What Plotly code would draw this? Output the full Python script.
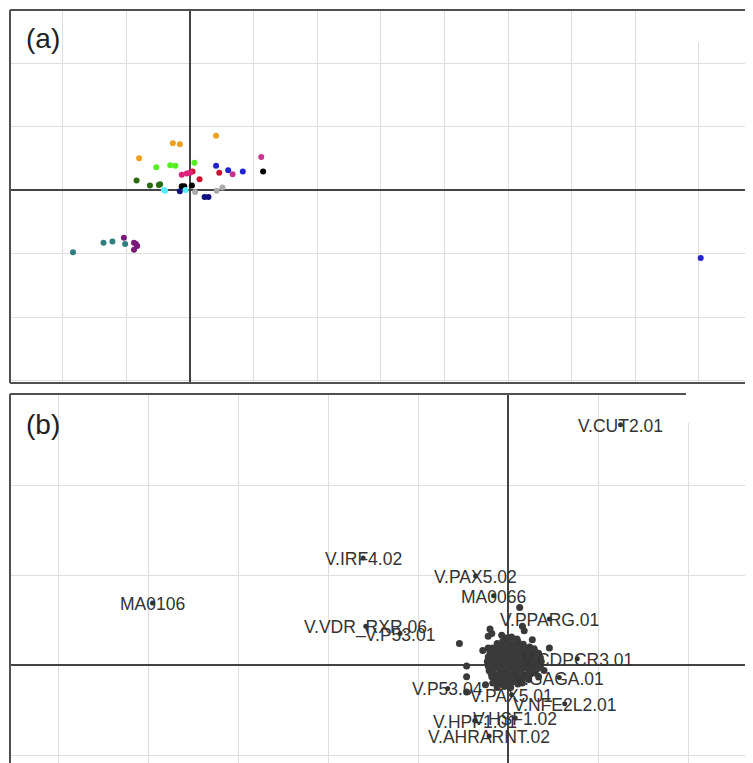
import plotly.graph_objects as go

W, H = 753, 763
OFF = 8  # the page body adds an 8px margin; shift design coordinates to compensate

# ---------------- Panel (a) data ----------------
a_groups = ["orange", "lime", "darkgreen", "blue", "navy", "black", "red",
            "pink", "magenta", "cyan", "gray", "teal", "purple"]
a_colors = {
    "orange": "#eea020", "lime": "#55ee22", "darkgreen": "#2a6a10",
    "blue": "#2222d0", "navy": "#10107e", "black": "#000000",
    "red": "#cc1030", "pink": "#e0207a", "magenta": "#c8338f",
    "cyan": "#55eeff", "gray": "#aaaaaa", "teal": "#2f7f80",
    "purple": "#7a1a7a",
}
a_x = {
    "orange": [0.41, -0.27, -0.16, -0.80],
    "lime": [-0.53, -0.31, -0.23, 0.07],
    "darkgreen": [-0.84, -0.63, -0.49, -0.47],
    "blue": [0.41, 0.60, 0.83, 8.03],
    "navy": [-0.16, 0.23, 0.29],
    "black": [1.15, -0.13, -0.09, 0.03],
    "red": [0.04, 0.46, 0.15],
    "pink": [-0.13, -0.05, 0.00],
    "magenta": [1.12, 0.67],
    "cyan": [-0.41, -0.39, -0.07],
    "gray": [0.08, 0.42, 0.51],
    "teal": [-1.84, -1.36, -1.22, -1.02],
    "purple": [-1.04, -0.88, -0.83, -0.88, -0.85],
}
a_y = {
    "orange": [0.855, 0.735, 0.72, 0.50],
    "lime": [0.36, 0.39, 0.38, 0.43],
    "darkgreen": [0.15, 0.07, 0.08, 0.09],
    "blue": [0.38, 0.31, 0.29, -1.07],
    "navy": [-0.02, -0.11, -0.11],
    "black": [0.29, 0.06, 0.06, 0.07],
    "red": [0.29, 0.27, 0.17],
    "pink": [0.24, 0.26, 0.27],
    "magenta": [0.52, 0.25],
    "cyan": [0.0, -0.01, 0.0],
    "gray": [-0.03, -0.01, 0.04],
    "teal": [-0.98, -0.83, -0.81, -0.85],
    "purple": [-0.75, -0.83, -0.88, -0.94, -0.85],
}

# ---------------- Panel (b) data ----------------
b_labels = ["V.CUT2.01", "V.IRF4.02", "MA0106", "V.VDR_RXR.06", "V.P53.01",
            "V.PAX5.02", "MA0066", "V.PPARG.01", "V.CDPCR3.01", "V.GAGA.01",
            "V.P53.04", "V.PAX5.01", "V.NFE2L2.01", "V.HSF1.02", "V.HPF1.01",
            "V.AHRARNT.02"]
b_lab_x = [1.25, -1.61, -3.95, -1.58, -1.20, -0.36, -0.16, 0.46, 0.77, 0.57,
           -0.67, 0.04, 0.63, 0.08, -0.37, -0.21]
b_lab_y = [2.67, 1.19, 0.69, 0.43, 0.35, 0.99, 0.77, 0.51, 0.07, -0.14,
           -0.26, -0.33, -0.43, -0.59, -0.62, -0.79]

b_cluster_x = [
    -0.02, 0.04, 0.10,
    -0.12, -0.06, 0.00, 0.05, 0.11, 0.17,
    -0.17, -0.11, -0.05, 0.01, 0.07, 0.12, 0.18, 0.24, 0.29,
    -0.20, -0.14, -0.08, -0.03, 0.03, 0.08, 0.13, 0.19, 0.24, 0.30, 0.34,
    -0.22, -0.16, -0.10, -0.04, 0.01, 0.06, 0.11, 0.16, 0.21, 0.27, 0.32, 0.36,
    -0.23, -0.18, -0.12, -0.06, -0.01, 0.04, 0.09, 0.14, 0.19, 0.25, 0.30, 0.35,
    -0.22, -0.17, -0.11, -0.05, 0.00, 0.05, 0.10, 0.15, 0.21, 0.26, 0.31, 0.36,
    -0.21, -0.15, -0.09, -0.04, 0.02, 0.07, 0.12, 0.17, 0.23, 0.28, 0.33,
    -0.19, -0.13, -0.07, -0.02, 0.04, 0.09, 0.14, 0.20, 0.25, 0.30,
    -0.16, -0.10, -0.04, 0.02, 0.07, 0.12, 0.18, 0.23,
    -0.13, -0.07, -0.01, 0.05, 0.11, 0.16,
    -0.12, -0.04, 0.03,
    -0.54, -0.28, -0.46, -0.46, -0.20, -0.18, -0.22, -0.07, 0.13, 0.16,
    0.18, 0.27, 0.46, 0.37, 0.40, 0.34, -0.22, -0.18, -0.17, -0.46, -0.25,
]
b_cluster_y = [
    0.30, 0.31, 0.29,
    0.24, 0.26, 0.25, 0.24, 0.26, 0.23,
    0.19, 0.21, 0.20, 0.19, 0.21, 0.20, 0.19, 0.20, 0.18,
    0.14, 0.16, 0.15, 0.14, 0.16, 0.15, 0.14, 0.16, 0.14, 0.15, 0.13,
    0.09, 0.11, 0.10, 0.09, 0.11, 0.10, 0.09, 0.11, 0.10, 0.09, 0.10, 0.08,
    0.04, 0.06, 0.05, 0.04, 0.06, 0.05, 0.04, 0.06, 0.05, 0.04, 0.06, 0.04,
    -0.01, 0.01, 0.00, -0.01, 0.01, 0.00, -0.01, 0.01, 0.00, -0.01, 0.01, -0.01,
    -0.06, -0.04, -0.05, -0.06, -0.04, -0.05, -0.06, -0.04, -0.05, -0.06, -0.04,
    -0.09, -0.11, -0.10, -0.09, -0.11, -0.10, -0.09, -0.11, -0.10, -0.09,
    -0.14, -0.16, -0.15, -0.14, -0.16, -0.15, -0.14, -0.16,
    -0.19, -0.21, -0.20, -0.19, -0.21, -0.20,
    -0.25, -0.24, -0.25,
    0.24, 0.16, -0.01, -0.13, 0.40, 0.35, 0.32, 0.33, 0.64, 0.43,
    0.38, 0.28, 0.19, 0.04, -0.06, -0.13, 0.19, -0.13, -0.20, -0.30, -0.22,
]

# ---------------- Layout geometry (reference pixels, then shifted) ----------------
LEFT = 10 - OFF
A_TOP, A_BOT = 10 - OFF, 383 - OFF
B_TOP = 394 - OFF
A_X0, A_UX = 190 - OFF, 63.6   # zero x pixel, px per unit
A_Y0, A_UY = 190 - OFF, 63.5
B_X0, B_UX = 508 - OFF, 90.0
B_Y0, B_UY = 665 - OFF, 90.0
CORNER_X = 686 - OFF

def px2x(px, x0, ux):
    return (px - x0) / ux

def py2y(py, y0, uy):
    return (y0 - py) / uy

fig = go.Figure()

for g in a_groups:
    fig.add_trace(go.Scatter(
        x=a_x[g], y=a_y[g], mode="markers",
        marker=dict(color=a_colors[g], size=6, line=dict(width=0)),
        xaxis="x", yaxis="y", showlegend=False, hoverinfo="skip"))

fig.add_trace(go.Scatter(
    x=b_cluster_x, y=b_cluster_y, mode="markers",
    marker=dict(color="#3a3a3a", size=7, line=dict(width=0)),
    xaxis="x2", yaxis="y2", showlegend=False, hoverinfo="skip"))

fig.add_trace(go.Scatter(
    x=b_lab_x, y=b_lab_y, mode="markers",
    marker=dict(color="#333333", size=5, line=dict(width=0)),
    xaxis="x2", yaxis="y2", showlegend=False, hoverinfo="skip"))

label_font = dict(family="Liberation Sans, Arial, sans-serif", size=17.5, color="#333333")
for lab, lx, ly in zip(b_labels, b_lab_x, b_lab_y):
    fig.add_annotation(text=lab, x=lx, y=ly, xref="x2", yref="y2", showarrow=False,
                       xanchor="center", yanchor="middle", yshift=-1, font=label_font)

grid_col = "#dedede"
zero_col = "#444444"
axis_common = dict(showticklabels=False, ticks="", showgrid=True, gridcolor=grid_col,
                   gridwidth=1, zeroline=True, zerolinecolor=zero_col, zerolinewidth=1.5,
                   showline=False, dtick=1, tick0=0, fixedrange=True)

fig.update_layout(
    width=W, height=H, margin=dict(l=0, r=0, t=0, b=0),
    paper_bgcolor="white", plot_bgcolor="white",
    xaxis=dict(domain=[LEFT / W, 1], range=[px2x(LEFT, A_X0, A_UX), px2x(W, A_X0, A_UX)],
               anchor="y", **axis_common),
    yaxis=dict(domain=[1 - A_BOT / H, 1 - A_TOP / H],
               range=[py2y(A_BOT, A_Y0, A_UY), py2y(A_TOP, A_Y0, A_UY)],
               anchor="x", **axis_common),
    xaxis2=dict(domain=[LEFT / W, 1], range=[px2x(LEFT, B_X0, B_UX), px2x(W, B_X0, B_UX)],
                anchor="y2", **axis_common),
    yaxis2=dict(domain=[0, 1 - B_TOP / H],
                range=[py2y(H, B_Y0, B_UY), py2y(B_TOP, B_Y0, B_UY)],
                anchor="x2", **axis_common),
)

border_col = "#505050"
shapes = []
# white boxes (top-right corner, as in reference)
shapes.append(dict(type="rect", xref="x", yref="y", layer="between",
                   x0=px2x(CORNER_X + 2, A_X0, A_UX), x1=px2x(W + 10, A_X0, A_UX),
                   y0=py2y(42 - OFF, A_Y0, A_UY), y1=py2y(A_TOP + 1, A_Y0, A_UY),
                   fillcolor="white", line=dict(width=0)))
shapes.append(dict(type="rect", xref="x2", yref="y2", layer="between",
                   x0=px2x(CORNER_X, B_X0, B_UX), x1=px2x(W + 10, B_X0, B_UX),
                   y0=py2y(423 - OFF, B_Y0, B_UY), y1=py2y(B_TOP, B_Y0, B_UY),
                   fillcolor="white", line=dict(width=0)))
# panel (a) border: left, top, bottom
shapes += [
    dict(type="line", xref="paper", yref="paper", x0=LEFT / W, x1=LEFT / W,
         y0=1 - A_BOT / H, y1=1 - A_TOP / H, line=dict(color=border_col, width=2)),
    dict(type="line", xref="paper", yref="paper", x0=LEFT / W, x1=1,
         y0=1 - A_TOP / H, y1=1 - A_TOP / H, line=dict(color=border_col, width=2)),
    dict(type="line", xref="paper", yref="paper", x0=LEFT / W, x1=1,
         y0=1 - A_BOT / H, y1=1 - A_BOT / H, line=dict(color=border_col, width=2)),
    # panel (b) border: left, top (stops before the corner box)
    dict(type="line", xref="paper", yref="paper", x0=LEFT / W, x1=LEFT / W,
         y0=0, y1=1 - B_TOP / H, line=dict(color=border_col, width=2)),
    dict(type="line", xref="paper", yref="paper", x0=LEFT / W, x1=CORNER_X / W,
         y0=1 - B_TOP / H, y1=1 - B_TOP / H, line=dict(color=border_col, width=2)),
]
fig.update_layout(shapes=shapes)

panel_font = dict(family="Liberation Sans, Arial, sans-serif", size=28, color="#222222")
fig.add_annotation(text="(a)", xref="paper", yref="paper", x=(24 - OFF) / W, y=1 - (39 - OFF) / H,
                   xanchor="left", yanchor="middle", showarrow=False, font=panel_font)
fig.add_annotation(text="(b)", xref="paper", yref="paper", x=(24 - OFF) / W, y=1 - (424 - OFF) / H,
                   xanchor="left", yanchor="middle", showarrow=False, font=panel_font)

fig.write_html("out.html")
